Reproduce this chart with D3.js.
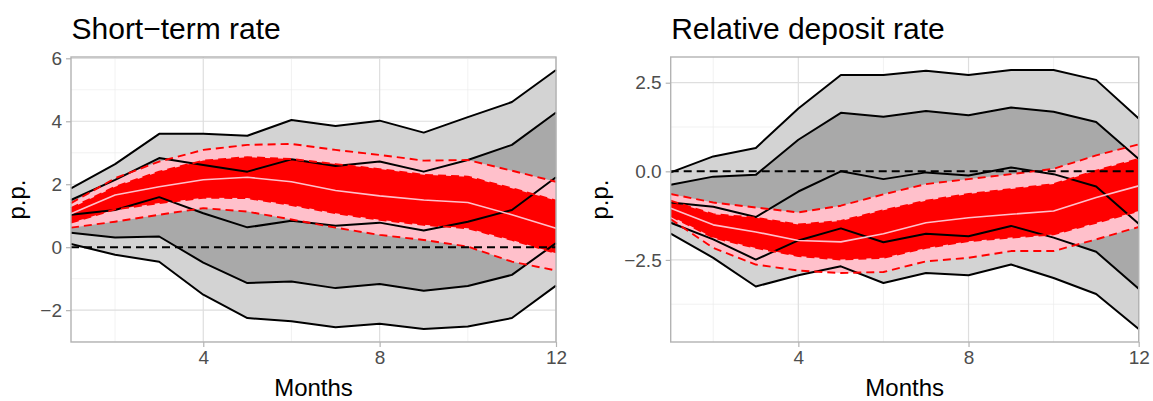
<!DOCTYPE html>
<html>
<head>
<meta charset="utf-8">
<script src="https://cdn.jsdelivr.net/npm/d3@7"></script>
<style>
  body { margin: 0; background: #fff; }
  svg text { font-family: "Liberation Sans", Arial, sans-serif; }
</style>
</head>
<body>
<svg id="chart" width="1153" height="401"></svg>
<script>
// months on the x axis
const months = [1, 2, 3, 4, 5, 6, 7, 8, 9, 10, 11, 12];
const xTicks = [4, 8, 12];

// Short-term rate: grey bands (black borders) + median
const stOuterUp = [1.87, 2.64, 3.60, 3.60, 3.54, 4.04, 3.85, 4.02, 3.64, 4.13, 4.61, 5.63];
const stInnerUp = [1.50, 2.14, 2.83, 2.61, 2.40, 2.79, 2.58, 2.72, 2.40, 2.77, 3.25, 4.28];
const stMedian  = [1.03, 1.18, 1.59, 1.08, 0.63, 0.84, 0.68, 0.78, 0.53, 0.81, 1.18, 2.22];
const stInnerLo = [0.46, 0.31, 0.34, -0.49, -1.14, -1.09, -1.30, -1.17, -1.38, -1.23, -0.88, 0.13];
const stOuterLo = [0.10, -0.24, -0.46, -1.51, -2.25, -2.35, -2.54, -2.43, -2.60, -2.52, -2.25, -1.22];
// Short-term rate: red / pink bands + centre
const stPinkUp = [1.40, 2.19, 2.72, 3.09, 3.25, 3.28, 3.09, 2.93, 2.75, 2.77, 2.43, 2.08];
const stRedUp  = [1.24, 1.92, 2.40, 2.75, 2.86, 2.80, 2.64, 2.48, 2.30, 2.24, 1.87, 1.48];
const stCenter = [1.06, 1.66, 1.92, 2.14, 2.22, 2.08, 1.80, 1.63, 1.50, 1.42, 1.03, 0.60];
const stRedLo  = [0.78, 1.20, 1.40, 1.57, 1.56, 1.34, 1.08, 0.87, 0.71, 0.60, 0.23, -0.19];
const stPinkLo = [0.62, 0.81, 1.03, 1.24, 1.13, 0.88, 0.62, 0.39, 0.23, 0.02, -0.46, -0.74];
const stYTicks = [-2, 0, 2, 4, 6];

// Relative deposit rate
const rdOuterUp = [-0.03, 0.42, 0.66, 1.77, 2.72, 2.72, 2.84, 2.72, 2.86, 2.86, 2.58, 1.49];
const rdInnerUp = [-0.38, -0.15, -0.10, 0.89, 1.65, 1.54, 1.70, 1.58, 1.80, 1.68, 1.39, 0.35];
const rdMedian  = [-0.88, -1.00, -1.29, -0.57, 0.00, -0.22, -0.03, -0.12, 0.11, -0.08, -0.43, -1.48];
const rdInnerLo = [-1.45, -1.92, -2.49, -1.95, -1.61, -2.00, -1.76, -1.83, -1.54, -1.87, -2.27, -3.31];
const rdOuterLo = [-1.76, -2.44, -3.25, -2.93, -2.68, -3.15, -2.87, -2.93, -2.63, -3.01, -3.46, -4.45];
const rdPinkUp = [-0.64, -0.88, -1.02, -1.16, -0.97, -0.65, -0.36, -0.22, -0.08, 0.07, 0.45, 0.76];
const rdRedUp  = [-0.83, -1.21, -1.31, -1.50, -1.40, -1.10, -0.83, -0.64, -0.50, -0.36, 0.02, 0.35];
const rdCenter = [-1.04, -1.51, -1.71, -1.95, -1.99, -1.76, -1.45, -1.31, -1.21, -1.12, -0.74, -0.41];
const rdRedLo  = [-1.26, -1.87, -2.16, -2.39, -2.49, -2.44, -2.16, -1.97, -1.87, -1.78, -1.45, -1.12];
const rdPinkLo = [-1.35, -2.16, -2.63, -2.80, -2.87, -2.84, -2.54, -2.44, -2.25, -2.25, -1.92, -1.57];
const rdYTicks = [-2.5, 0, 2.5];

const svg = d3.select("#chart");
const minus = s => s.replace("-", "\u2212");

function drawPanel(p) {
  const top = 57, bottom = 342;
  const x = d3.scaleLinear().domain([months[0], months[months.length - 1]]).range([p.left, p.right]);
  const all = [].concat(p.outerUp, p.outerLo, p.pinkUp, p.pinkLo, [0]);
  const lo = d3.min(all), hi = d3.max(all), pad = (hi - lo) * 0.05;
  const y = d3.scaleLinear().domain([lo - pad, hi + pad]).range([bottom, top]);

  const g = svg.append("g");

  // grid
  const step = p.yTicks[1] - p.yTicks[0];
  const minorY = [];
  for (let v = p.yTicks[0] - step / 2; v <= y.domain()[1]; v += step)
    if (v >= y.domain()[0]) minorY.push(v);
  const minorX = [2, 6, 10];
  g.selectAll(".gmy").data(minorY).join("line")
    .attr("x1", p.left).attr("x2", p.right)
    .attr("y1", d => y(d)).attr("y2", d => y(d))
    .attr("stroke", "#ececec").attr("stroke-width", 0.7);
  g.selectAll(".gmx").data(minorX).join("line")
    .attr("y1", top).attr("y2", bottom)
    .attr("x1", d => x(d)).attr("x2", d => x(d))
    .attr("stroke", "#ececec").attr("stroke-width", 0.7);
  g.selectAll(".gy").data(p.yTicks).join("line")
    .attr("x1", p.left).attr("x2", p.right)
    .attr("y1", d => y(d)).attr("y2", d => y(d))
    .attr("stroke", "#dedede").attr("stroke-width", 1.2);
  g.selectAll(".gx").data(xTicks).join("line")
    .attr("y1", top).attr("y2", bottom)
    .attr("x1", d => x(d)).attr("x2", d => x(d))
    .attr("stroke", "#dedede").attr("stroke-width", 1.2);

  const band = (a, b, fill) => {
    const area = d3.area().x((d, i) => x(months[i])).y0((d, i) => y(b[i])).y1(d => y(d));
    g.append("path").datum(a).attr("d", area).attr("fill", fill);
  };
  const line = (a, stroke, w, dash) => {
    const ln = d3.line().x((d, i) => x(months[i])).y(d => y(d));
    g.append("path").datum(a).attr("d", ln).attr("fill", "none")
      .attr("stroke", stroke).attr("stroke-width", w)
      .attr("stroke-dasharray", dash || null).attr("stroke-linejoin", "round");
  };

  band(p.outerUp, p.outerLo, "#d3d3d3");
  band(p.innerUp, p.innerLo, "#a9a9a9");
  band(p.pinkUp, p.pinkLo, "#ffc0cb");
  band(p.redUp, p.redLo, "#ff0000");

  [p.outerUp, p.innerUp, p.median, p.innerLo, p.outerLo].forEach(s => line(s, "#000", 2));
  [p.pinkUp, p.pinkLo, p.redUp, p.redLo].forEach(s => line(s, "#ff0000", 1.9, "8,5"));
  line(p.center, "#ffc0cb", 1.6);

  // zero reference
  g.append("line").attr("x1", p.left).attr("x2", p.right)
    .attr("y1", y(0)).attr("y2", y(0))
    .attr("stroke", "#000").attr("stroke-width", 2).attr("stroke-dasharray", "8,5");

  // border
  g.append("rect").attr("x", p.left).attr("y", top)
    .attr("width", p.right - p.left).attr("height", bottom - top)
    .attr("fill", "none").attr("stroke", "#b3b3b3").attr("stroke-width", 1.4);

  // axes
  const xAxis = d3.axisBottom(x).tickValues(xTicks).tickSize(5).tickPadding(4);
  const ax = g.append("g").attr("transform", `translate(0,${bottom})`).call(xAxis);
  const yAxis = d3.axisLeft(y).tickValues(p.yTicks).tickSize(5).tickPadding(4)
    .tickFormat(d => minus(d3.format(p.fmt)(d)));
  const ay = g.append("g").attr("transform", `translate(${p.left},0)`).call(yAxis);
  [ax, ay].forEach(a => {
    a.select(".domain").remove();
    a.selectAll(".tick line").attr("stroke", "#b3b3b3").attr("stroke-width", 1.2);
    a.selectAll(".tick text").attr("fill", "#4d4d4d").attr("font-size", 19)
      .attr("font-family", "Liberation Sans, Arial, sans-serif");
  });

  // titles
  g.append("text").attr("x", p.left + 0.5).attr("y", 38.5)
    .attr("font-size", 30).attr("fill", "#000").text(p.title);
  g.append("text").attr("x", (p.left + p.right) / 2).attr("y", 396)
    .attr("text-anchor", "middle").attr("font-size", 24).attr("fill", "#000").text("Months");
  g.append("text")
    .attr("transform", `translate(${p.yTitleX},${(top + bottom) / 2}) rotate(-90)`)
    .attr("text-anchor", "middle").attr("font-size", 24).attr("fill", "#000").text("p.p.");
}

drawPanel({
  title: "Short\u2212term rate", left: 71, right: 556, yTitleX: 25, fmt: "d", yTicks: stYTicks,
  outerUp: stOuterUp, innerUp: stInnerUp, median: stMedian, innerLo: stInnerLo, outerLo: stOuterLo,
  pinkUp: stPinkUp, redUp: stRedUp, center: stCenter, redLo: stRedLo, pinkLo: stPinkLo
});
drawPanel({
  title: "Relative deposit rate", left: 670.7, right: 1138.7, yTitleX: 608, fmt: ".1f", yTicks: rdYTicks,
  outerUp: rdOuterUp, innerUp: rdInnerUp, median: rdMedian, innerLo: rdInnerLo, outerLo: rdOuterLo,
  pinkUp: rdPinkUp, redUp: rdRedUp, center: rdCenter, redLo: rdRedLo, pinkLo: rdPinkLo
});
</script>
</body>
</html>
